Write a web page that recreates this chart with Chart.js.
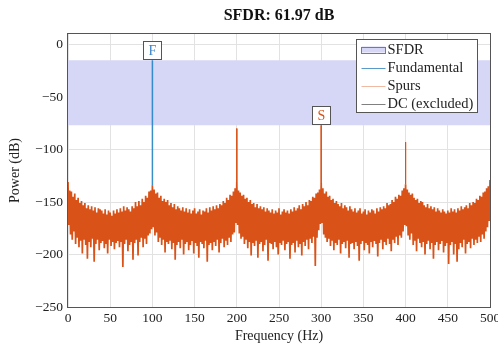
<!DOCTYPE html>
<html>
<head>
<meta charset="utf-8">
<script src="https://cdn.jsdelivr.net/npm/chart.js@4.4.1/dist/chart.umd.min.js"></script>
<style>
  html, body { margin: 0; padding: 0; background: #fff; overflow: hidden; }
  #wrap { width: 498px; height: 346px; }
</style>
</head>
<body>
<div id="wrap"><canvas id="sfdrChart" width="498" height="346"></canvas></div>
<script>
// --- DATA ---
const freqRange = [0, 500];
const powerRange = [-250, 10];
const xTicks = [0, 50, 100, 150, 200, 250, 300, 350, 400, 450, 500];
const yTicks = [-250, -200, -150, -100, -50, 0];

const fundamentalFreq = 100;
const fundamentalPower = -15;
const spurFreqs = [200, 300, 400];
const spurPowers = [-80, -76.97, -93];
const dcFreq = 0;
const dcPower = -131;

// spectrum: upper samples at even Hz (0..500), lower samples at odd Hz (1..499)
const noiseTop = [
  -131,-139,-140,-145,-142,-148,-146,-151,-149,-153,
  -151,-156,-153,-157,-154,-158,-155,-160,-156,-157,
  -158,-161,-157,-162,-158,-160,-163,-158,-161,-157,
  -160,-156,-159,-154,-158,-155,-157,-159,-154,-156,
  -150,-154,-149,-153,-147,-150,-144,-146,-140,-139,
  -134,-138,-142,-141,-146,-144,-149,-147,-150,-148,
  -153,-151,-155,-152,-157,-154,-156,-158,-155,-159,
  -156,-160,-157,-161,-158,-156,-161,-159,-157,-162,
  -158,-159,-156,-160,-155,-158,-154,-157,-153,-156,
  -152,-153,-149,-151,-146,-148,-143,-144,-140,-137,
  -131,-139,-141,-144,-143,-147,-146,-150,-148,-152,
  -151,-155,-152,-156,-154,-157,-155,-159,-156,-158,
  -160,-157,-161,-158,-160,-156,-162,-159,-157,-160,
  -158,-161,-157,-159,-155,-158,-156,-153,-157,-152,
  -154,-150,-153,-148,-149,-145,-146,-142,-141,-138,
  -132,-137,-142,-140,-145,-144,-148,-147,-151,-149,
  -152,-154,-151,-156,-153,-155,-158,-154,-157,-159,
  -156,-160,-158,-156,-161,-159,-157,-162,-158,-160,
  -157,-158,-161,-156,-159,-155,-157,-154,-156,-151,
  -153,-152,-148,-150,-145,-147,-143,-144,-139,-137,
  -133,-138,-141,-143,-142,-146,-148,-147,-151,-149,
  -150,-153,-155,-152,-156,-154,-157,-155,-159,-156,
  -158,-160,-157,-159,-161,-158,-160,-156,-159,-157,
  -160,-156,-158,-154,-157,-155,-153,-156,-151,-153,
  -150,-151,-147,-148,-144,-145,-141,-140,-137,-135,
  -129
];
const noiseBottom = [
  -172,-181,-186,-178,-190,-184,-193,-187,-199,-186,
  -191,-204,-188,-193,-185,-207,-190,-186,-196,-189,
  -187,-194,-190,-199,-186,-192,-188,-195,-189,-187,
  -193,-188,-212,-190,-186,-197,-191,-188,-205,-189,
  -186,-201,-188,-184,-193,-185,-190,-182,-180,-176,
  -174,-182,-179,-188,-184,-191,-186,-198,-188,-190,
  -187,-195,-189,-205,-191,-188,-194,-186,-200,-190,
  -188,-196,-191,-187,-199,-189,-192,-203,-188,-190,
  -194,-187,-207,-191,-189,-196,-188,-192,-186,-198,
  -189,-185,-193,-187,-191,-184,-188,-181,-179,-170,
  -172,-180,-185,-183,-190,-186,-194,-188,-201,-189,
  -192,-187,-203,-190,-188,-197,-191,-186,-206,-189,
  -190,-195,-188,-193,-200,-189,-191,-187,-196,-190,
  -188,-204,-191,-189,-198,-187,-193,-190,-201,-188,
  -192,-186,-195,-185,-189,-183,-211,-184,-177,-171,
  -170,-181,-184,-188,-185,-192,-187,-196,-189,-191,
  -186,-199,-190,-188,-194,-187,-203,-190,-189,-195,
  -188,-192,-206,-190,-187,-196,-189,-191,-199,-188,
  -193,-187,-190,-202,-189,-186,-195,-188,-191,-185,
  -190,-197,-186,-189,-183,-191,-182,-184,-178,-172,
  -173,-182,-186,-180,-191,-187,-197,-185,-189,-193,
  -188,-200,-190,-187,-195,-189,-204,-191,-188,-196,
  -190,-187,-198,-192,-189,-209,-191,-188,-200,-190,
  -207,-195,-189,-193,-186,-199,-190,-188,-194,-185,
  -191,-186,-189,-183,-188,-181,-185,-178,-174,-168
];

// --- STYLE ---
const FUND_COLOR = 'rgba(0, 114, 189, 0.75)';
const SPUR_COLOR = '#d95319';
const DC_COLOR = '#808080';
const BAND_COLOR = '#d6d6f7';
const SERIF = "'Liberation Serif', 'DejaVu Serif', serif";

Chart.defaults.font.family = SERIF;
Chart.defaults.color = '#222';

// --- DERIVED ---
const worstSpur = Math.max(...spurPowers);
const worstSpurFreq = spurFreqs[spurPowers.indexOf(worstSpur)];
const sfdr = fundamentalPower - worstSpur;

const topAt = f => noiseTop[f / 2];

const spectrumLine = [];
noiseTop.forEach((v, i) => {
    spectrumLine.push({ x: 2 * i, y: v });
    if (i < noiseBottom.length) spectrumLine.push({ x: 2 * i + 1, y: noiseBottom[i] });
});

const fundamentalLine = [
    { x: fundamentalFreq, y: fundamentalPower },
    { x: fundamentalFreq, y: topAt(fundamentalFreq) }
];

const spurLines = [];
spurFreqs.forEach((f, i) => {
    spurLines.push({ x: f, y: spurPowers[i] }, { x: f, y: topAt(f) }, { x: f, y: null });
});

const dcLine = [{ x: dcFreq, y: dcPower }];
const sfdrBand = [{ x: freqRange[0], y: fundamentalPower }, { x: freqRange[1], y: fundamentalPower }];

const legendOrder = ['SFDR', 'Fundamental', 'Spurs', 'DC (excluded)'];

// --- PLUGINS ---
function drawTag(ctx, px, py, text, color) {
    const w = 18, h = 18;
    const left = Math.round(px - w / 2) + 0.5;
    const top = Math.round(py - 1 - h) + 0.5;
    ctx.fillStyle = '#fff';
    ctx.fillRect(left, top, w, h);
    ctx.strokeStyle = '#555';
    ctx.lineWidth = 1;
    ctx.strokeRect(left, top, w, h);
    ctx.fillStyle = color;
    ctx.font = `14px ${SERIF}`;
    ctx.textAlign = 'center';
    ctx.textBaseline = 'middle';
    ctx.fillText(text, left + w / 2, top + h / 2 + 1);
}

const framePlugin = {
    id: 'framePlugin',
    afterDatasetsDraw(chart) {
        const { ctx, chartArea: a, scales: { x, y } } = chart;
        ctx.save();
        ctx.strokeStyle = '#555';
        ctx.lineWidth = 1;
        ctx.strokeRect(Math.round(a.left) - 0.5, Math.round(a.top) - 0.5,
            Math.round(a.right - a.left) + 1, Math.round(a.bottom - a.top) + 1);
        drawTag(ctx, x.getPixelForValue(fundamentalFreq), y.getPixelForValue(fundamentalPower), 'F', '#3f86c8');
        drawTag(ctx, x.getPixelForValue(worstSpurFreq), y.getPixelForValue(worstSpur), 'S', SPUR_COLOR);

        // title centred over the plot box
        ctx.fillStyle = '#111';
        ctx.font = `bold 16px ${SERIF}`;
        ctx.textAlign = 'center';
        ctx.textBaseline = 'middle';
        ctx.fillText(`SFDR: ${sfdr.toFixed(2)} dB`, (a.left + a.right) / 2, 16);
        ctx.restore();
    }
};

const boxLegend = {
    id: 'boxLegend',
    afterDraw(chart) {
        const { ctx, chartArea: a } = chart;
        const w = 121, h = 73, rowH = 18;
        const left = Math.round(a.right - 13 - w) + 0.5;
        const top = Math.round(a.top + 5) + 0.5;
        ctx.save();
        ctx.fillStyle = '#fff';
        ctx.fillRect(left, top, w, h);
        ctx.strokeStyle = '#555';
        ctx.lineWidth = 1;
        ctx.strokeRect(left, top, w, h);
        ctx.font = `14.5px ${SERIF}`;
        ctx.textAlign = 'left';
        ctx.textBaseline = 'middle';
        legendOrder.forEach((label, i) => {
            const ds = chart.data.datasets.find(d => d.label === label);
            const cy = top + 10 + i * rowH;
            const mx = left + 5;
            if (ds.fill) {
                ctx.fillStyle = ds.backgroundColor;
                ctx.fillRect(mx, cy - 3, 24, 6);
                ctx.strokeStyle = '#77779a';
                ctx.strokeRect(mx, Math.round(cy - 3) + 0.5, 24, 6);
            } else {
                ctx.strokeStyle = ds.legendColor || ds.borderColor;
                ctx.beginPath();
                ctx.moveTo(mx, Math.round(cy) + 0.5);
                ctx.lineTo(mx + 24, Math.round(cy) + 0.5);
                ctx.stroke();
            }
            ctx.fillStyle = '#222';
            ctx.fillText(label, mx + 26, cy + 1);
        });
        ctx.restore();
    }
};

// --- CHART ---
const ctx = document.getElementById('sfdrChart');
new Chart(ctx, {
    type: 'line',
    data: {
        datasets: [
            { label: 'Fundamental', data: fundamentalLine, borderColor: FUND_COLOR, legendColor: '#5a9ac8',
              borderWidth: 1.5, pointRadius: 0, order: 0 },
            { label: 'Spurs', data: spurLines, borderColor: SPUR_COLOR, legendColor: '#efb9a2',
              borderWidth: 1, pointRadius: 0, spanGaps: false, order: 1 },
            { label: 'DC (excluded)', data: dcLine, borderColor: DC_COLOR, borderWidth: 1, pointRadius: 0, order: 2 },
            // small tension keeps Chart.js off its min/max fast path so every zigzag is stroked
            { label: 'Spectrum', data: spectrumLine, borderColor: SPUR_COLOR, borderWidth: 1.7, pointRadius: 0,
              borderJoinStyle: 'bevel', tension: 0.001, order: 3 },
            { label: 'SFDR', data: sfdrBand, borderWidth: 0, borderColor: 'rgba(0,0,0,0)', backgroundColor: BAND_COLOR,
              fill: { value: worstSpur }, pointRadius: 0, order: 4 }
        ]
    },
    options: {
        responsive: false,
        animation: false,
        layout: { autoPadding: false, padding: { left: 0, right: 8, top: 34, bottom: 0 } },
        plugins: {
            legend: { display: false },
            tooltip: { enabled: false },
            title: { display: false }
        },
        scales: {
            x: {
                type: 'linear',
                min: freqRange[0],
                max: freqRange[1],
                afterBuildTicks: s => { s.ticks = xTicks.map(v => ({ value: v })); },
                afterFit: s => { s.height = 39; s.paddingLeft = 0; s.paddingRight = 0; },
                ticks: { autoSkip: false, maxRotation: 0, padding: 3, font: { size: 13.5 } },
                grid: { color: '#e2e2e2', drawTicks: false },
                border: { display: false },
                title: { display: true, text: 'Frequency (Hz)', font: { size: 14 }, padding: { top: 0, bottom: 1 } }
            },
            y: {
                min: powerRange[0],
                max: powerRange[1],
                afterBuildTicks: s => { s.ticks = yTicks.map(v => ({ value: v })); },
                afterFit: s => { s.width = 68; s.paddingTop = 0; s.paddingBottom = 0; },
                ticks: {
                    padding: 5,
                    font: { size: 13.5 },
                    callback: v => (v < 0 ? '\u2212' + Math.abs(v) : String(v))
                },
                grid: { color: '#e2e2e2', drawTicks: false },
                border: { display: false },
                title: { display: true, text: 'Power (dB)', font: { size: 14 }, padding: { top: 7, bottom: 0 } }
            }
        }
    },
    plugins: [framePlugin, boxLegend]
});
</script>
</body>
</html>
